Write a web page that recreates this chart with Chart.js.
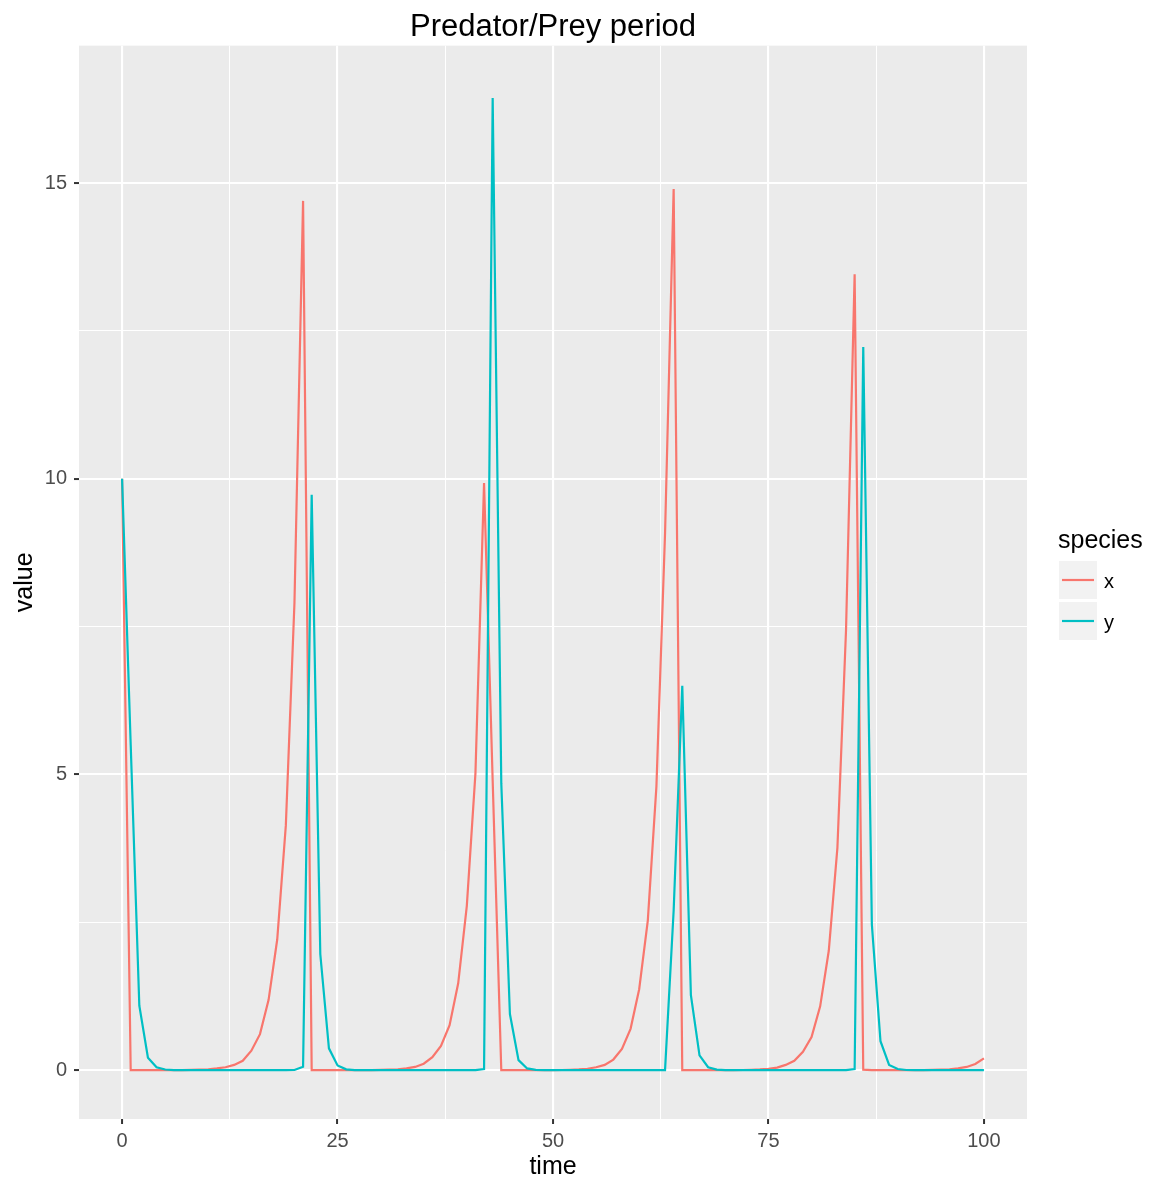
<!DOCTYPE html>
<html>
<head>
<meta charset="utf-8">
<script src="https://cdn.jsdelivr.net/npm/chart.js@4/dist/chart.umd.min.js"></script>
<style>
  body { margin: 0; background: #fff; }
  #wrap { width: 1165px; height: 1180px; }
</style>
</head>
<body>
<div id="wrap"><canvas id="predatorChart" width="1165" height="1180"></canvas></div>
<script>
// time steps 0..100
const time = [];
for (let t = 0; t <= 100; t++) time.push(t);

// prey (x) values
const speciesX = [
  10, 0.0001, 0.0001, 0.0002, 0.0004, 0.0007, 0.0013, 0.0025, 0.005, 0.009,
  0.016, 0.03, 0.05, 0.09, 0.16, 0.33, 0.61, 1.19, 2.21, 4.14,
  7.9, 14.7, 0.0001, 0.0001, 0.0001, 0.0002, 0.0004, 0.0007, 0.0013, 0.0025,
  0.005, 0.009, 0.016, 0.03, 0.055, 0.11, 0.22, 0.41, 0.76, 1.47,
  2.78, 5.02, 9.93, 4.9, 0.0001, 0.0001, 0.0002, 0.0003, 0.0005, 0.001,
  0.0018, 0.0035, 0.007, 0.013, 0.025, 0.05, 0.09, 0.18, 0.36, 0.70,
  1.37, 2.53, 4.8, 9.07, 14.9, 0.0001, 0.0001, 0.0002, 0.0003, 0.0005,
  0.001, 0.002, 0.0035, 0.007, 0.013, 0.024, 0.045, 0.09, 0.16, 0.31,
  0.56, 1.08, 2.02, 3.76, 7.44, 13.46, 0.01, 0.0005, 0.0003, 0.0003,
  0.0004, 0.0007, 0.0013, 0.0025, 0.005, 0.009, 0.016, 0.03, 0.055, 0.105,
  0.2
];

// predator (y) values
const speciesY = [
  10, 5.5, 1.09, 0.21, 0.05, 0.012, 0.003, 0.001, 0.0005, 0.0003,
  0.0002, 0.0001, 0.0001, 0.0001, 0.0001, 0.0001, 0.0001, 0.0001, 0.0002, 0.0005,
  0.004, 0.06, 9.73, 1.96, 0.37, 0.08, 0.015, 0.003, 0.0007, 0.0002,
  0.0001, 0.0001, 0.0001, 0.0001, 0.0001, 0.0001, 0.0001, 0.0001, 0.0001, 0.0002,
  0.0004, 0.002, 0.02, 16.44, 4.85, 0.95, 0.17, 0.03, 0.006, 0.001,
  0.0003, 0.0001, 0.0001, 0.0001, 0.0001, 0.0001, 0.0001, 0.0001, 0.0001, 0.0001,
  0.0001, 0.0002, 0.0005, 0.002, 2.7, 6.5, 1.27, 0.25, 0.05, 0.01,
  0.002, 0.0005, 0.0002, 0.0001, 0.0001, 0.0001, 0.0001, 0.0001, 0.0001, 0.0001,
  0.0001, 0.0001, 0.0001, 0.0002, 0.0006, 0.02, 12.23, 2.46, 0.49, 0.09,
  0.02, 0.004, 0.001, 0.0003, 0.0001, 0.0001, 0.0001, 0.0001, 0.0001, 0.0001,
  0.0001
];

const xTicks = [0, 12.5, 25, 37.5, 50, 62.5, 75, 87.5, 100];
const xLabels = [0, 25, 50, 75, 100];
const yTicks = [0, 2.5, 5, 7.5, 10, 12.5, 15];
const yLabels = [0, 5, 10, 15];

const seriesNames = ['x', 'y'];
const seriesColors = ['#F8766D', '#00BFC4'];

const FONT = 'Liberation Sans, Arial, Helvetica, sans-serif';

// grey panel behind the grid
const panelBackground = {
    id: 'panelBackground',
    beforeDraw(chart) {
        const { ctx, chartArea: a } = chart;
        ctx.save();
        ctx.fillStyle = '#EBEBEB';
        ctx.fillRect(a.left, a.top, a.right - a.left, a.bottom - a.top);
        ctx.restore();
    }
};

// ggplot style legend on the right
const speciesLegend = {
    id: 'speciesLegend',
    afterDraw(chart) {
        const ctx = chart.ctx;
        ctx.save();
        ctx.fillStyle = '#000';
        ctx.font = '25px ' + FONT;
        ctx.textBaseline = 'middle';
        ctx.textAlign = 'left';
        ctx.fillText('species', 1058, 541);
        seriesNames.forEach((name, i) => {
            const top = 561 + i * 41;
            ctx.fillStyle = '#F2F2F2';
            ctx.fillRect(1059, top, 38, 38);
            ctx.strokeStyle = seriesColors[i];
            ctx.lineWidth = 2.2;
            ctx.beginPath();
            ctx.moveTo(1062, top + 19);
            ctx.lineTo(1094, top + 19);
            ctx.stroke();
            ctx.fillStyle = '#000';
            ctx.font = '20px ' + FONT;
            ctx.fillText(name, 1104, top + 21);
        });
        ctx.restore();
    }
};

function points(values) {
    return time.map((t, i) => ({ x: t, y: values[i] }));
}

const ctx = document.getElementById('predatorChart').getContext('2d');

const myChart = new Chart(ctx, {
    type: 'line',
    data: {
        datasets: [{
            label: seriesNames[0],
            data: points(speciesX),
            borderColor: seriesColors[0],
            borderWidth: 2.2,
            pointRadius: 0,
            tension: 0,
            order: 1
        }, {
            label: seriesNames[1],
            data: points(speciesY),
            borderColor: seriesColors[1],
            borderWidth: 2.2,
            pointRadius: 0,
            tension: 0,
            order: 0
        }]
    },
    options: {
        responsive: false,
        animation: false,
        layout: { padding: { left: 0, right: 138, top: 0, bottom: 0 } },
        plugins: {
            legend: { display: false },
            tooltip: { enabled: false },
            title: {
                display: true,
                text: 'Predator/Prey period',
                color: '#000',
                fullSize: false,
                font: { family: FONT, size: 31, weight: 'normal', lineHeight: 1.15 },
                padding: { top: 10, bottom: 0 }
            }
        },
        scales: {
            x: {
                type: 'linear',
                min: -5,
                max: 105,
                afterBuildTicks: scale => { scale.ticks = xTicks.map(v => ({ value: v })); },
                afterFit: scale => { scale.height = 61; },
                border: { display: false },
                grid: {
                    color: '#FFFFFF',
                    lineWidth: c => xLabels.includes(c.tick.value) ? 2.1 : 1,
                    tickColor: c => xLabels.includes(c.tick.value) ? '#333333' : 'rgba(0,0,0,0)',
                    tickWidth: 2,
                    tickLength: 5
                },
                ticks: {
                    autoSkip: false,
                    maxRotation: 0,
                    padding: 5,
                    color: '#4D4D4D',
                    font: { family: FONT, size: 20 },
                    callback: v => xLabels.includes(v) ? String(v) : ''
                },
                title: {
                    display: true,
                    text: 'time',
                    color: '#000',
                    font: { family: FONT, size: 25, lineHeight: 1.0 },
                    padding: { top: 0, bottom: 0 }
                }
            },
            y: {
                type: 'linear',
                min: -0.825,
                max: 17.325,
                afterBuildTicks: scale => { scale.ticks = yTicks.map(v => ({ value: v })); },
                afterFit: scale => { scale.width = 79; },
                border: { display: false },
                grid: {
                    color: '#FFFFFF',
                    lineWidth: c => yLabels.includes(c.tick.value) ? 2.1 : 1,
                    tickColor: c => yLabels.includes(c.tick.value) ? '#333333' : 'rgba(0,0,0,0)',
                    tickWidth: 2,
                    tickLength: 5
                },
                ticks: {
                    autoSkip: false,
                    padding: 7,
                    color: '#4D4D4D',
                    font: { family: FONT, size: 20 },
                    callback: v => yLabels.includes(v) ? String(v) : ''
                },
                title: {
                    display: true,
                    text: 'value',
                    color: '#000',
                    font: { family: FONT, size: 25 },
                    padding: { top: 10, bottom: 0 }
                }
            }
        }
    },
    plugins: [panelBackground, speciesLegend]
});
</script>
</body>
</html>
